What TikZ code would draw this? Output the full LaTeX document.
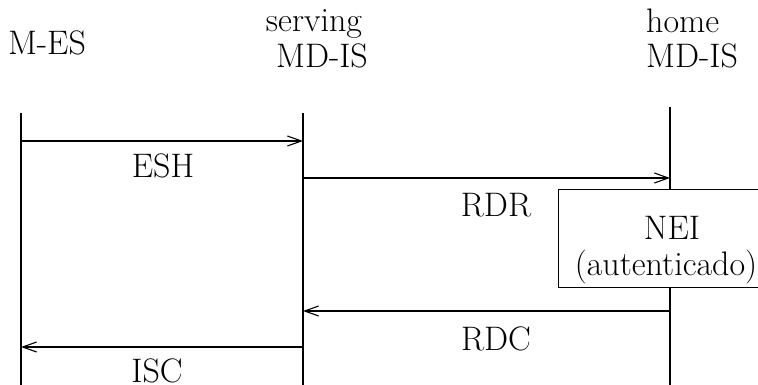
\documentclass[tikz,border=0pt]{standalone}
\usepackage{fontspec}
\setmainfont{Latin Modern Roman}
\usetikzlibrary{arrows.meta}
\newcommand{\bigtxt}{\fontsize{34}{40}\selectfont}
\begin{document}
\begin{tikzpicture}[x=1pt,y=-1pt,
  txt/.style={inner sep=0pt, anchor=base},
  life/.style={line width=1.1pt},
  msg/.style={line width=1.1pt, -{Straight Barb[length=14pt,width=10pt,line width=1.1pt]}},
  procbox/.style={draw, line width=1.1pt, minimum width=218pt, minimum height=98pt, anchor=north west, inner sep=0pt}]
\useasboundingbox (0,0) rectangle (758,385);
\clip (0,0) rectangle (758,385);
% headers
\node[txt] (hmes) at (47,55) {\bigtxt M-ES};
\node[txt] (hserv) at (314,32) {\bigtxt serving};
\node[txt] (hsmd) at (322,68) {\bigtxt MD-IS};
\node[txt, anchor=base west] (hhome) at (646,33) {\bigtxt home};
\node[txt, anchor=base west] (hhmd) at (646,68) {\bigtxt MD-IS};
% lifelines
\coordinate (at) at (21,113); \coordinate (ab) at (21,386);
\coordinate (bt) at (303,113); \coordinate (bb) at (303,386);
\coordinate (ct) at (670,107); \coordinate (cb) at (670,386);
\draw[life] (at) -- (ab);
\draw[life] (bt) -- (bb);
\draw[life] (ct) -- (cb);
% box
\node[procbox, fill=white] (nei) at (558,189) {};
\node[txt] (neit) at (672,239) {\bigtxt NEI};
\node[txt] (neia) at (666,275) {\bigtxt (autenticado)};
% messages
\coordinate (e1) at (21,141); \coordinate (e2) at (303,141);
\coordinate (r1) at (303,178); \coordinate (r2) at (670,178);
\coordinate (d1) at (670,311); \coordinate (d2) at (303,311);
\coordinate (i1) at (303,347); \coordinate (i2) at (21,347);
\draw[msg] (e1) -- (e2);
\draw[msg] (r1) -- (r2);
\draw[msg] (d1) -- (d2);
\draw[msg] (i1) -- (i2);
\node[txt] (lesh) at (163,178) {\bigtxt ESH};
\node[txt] (lrdr) at (496,216) {\bigtxt RDR};
\node[txt] (lrdc) at (496,350) {\bigtxt RDC};
\node[txt] (lisc) at (157,382) {\bigtxt ISC};
\end{tikzpicture}
\end{document}
